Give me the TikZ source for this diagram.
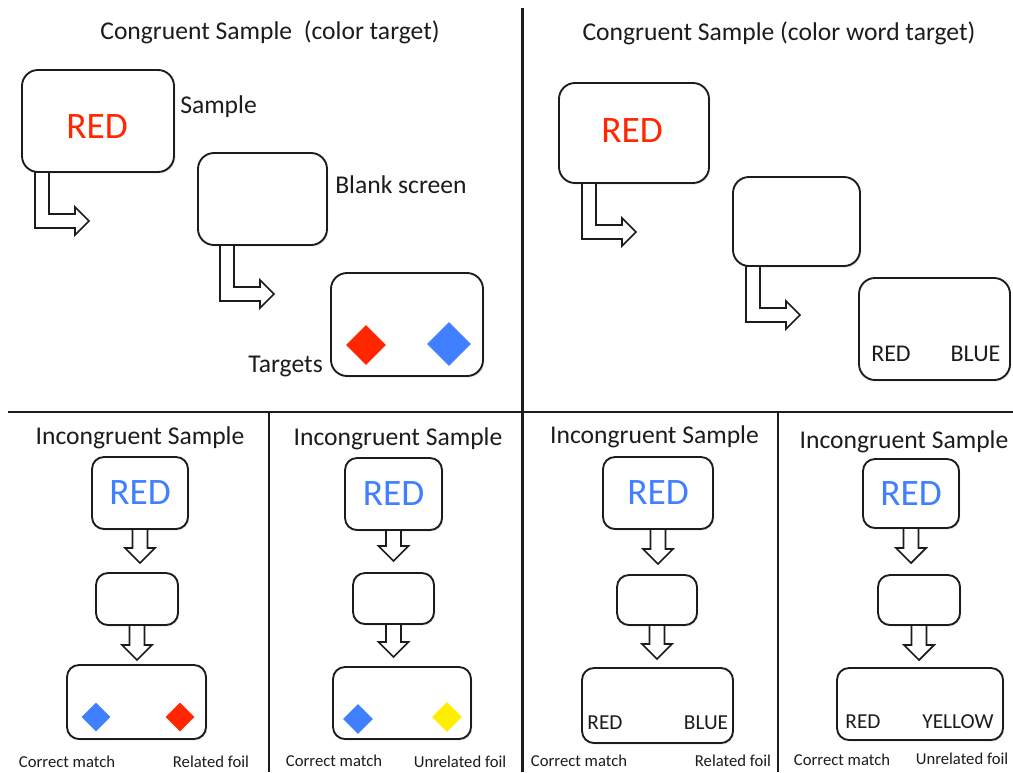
\documentclass[tikz,border=0pt]{standalone}
\usepackage{fontspec}
\setmainfont{Carlito}
\usetikzlibrary{shapes.geometric,calc,shadows}
\definecolor{wordred}{RGB}{255,38,0}
\definecolor{wordblue}{RGB}{64,128,255}
\definecolor{chipyellow}{RGB}{255,238,0}
\definecolor{ink}{RGB}{28,28,28}
\tikzset{
  screen/.style 2 args={draw=ink, line width=1.4pt, fill=white, rounded corners=12pt,
    inner sep=0pt, outer sep=0pt, minimum width=#1*0.75pt, minimum height=#2*0.75pt,
    drop shadow={shadow xshift=1pt, shadow yshift=-1.2pt, opacity=0.18}},
  smallscreen/.style 2 args={screen={#1}{#2}, rounded corners=9pt},
  blockarrow/.style={draw=ink, fill=white, line width=1.3pt, line join=miter},
  chip/.style 2 args={diamond, aspect=1, inner sep=0pt, fill=#1, draw=none,
    minimum width=#2*0.75pt, minimum height=#2*0.75pt},
  heading/.style={font=\fontsize{19.2}{22}\selectfont, text=ink, inner sep=0pt},
  bigword/.style={font=\fontsize{28}{32}\selectfont, inner sep=0pt},
  word/.style={font=\fontsize{18}{21}\selectfont, text=ink, inner sep=0pt},
  smallword/.style={font=\fontsize{16}{19}\selectfont, text=ink, inner sep=0pt},
  caption/.style={font=\fontsize{12.5}{15}\selectfont, text=ink, inner sep=0pt},
  divider/.style={draw=ink, line width=1.9pt},
  pics/bentarrow/.style={code={
    \draw[blockarrow] (0,0) -- (0,56) -- (40,56) -- (40,63) -- (54,49)
      -- (40,35) -- (40,42) -- (14,42) -- (14,0) -- cycle;}},
  pics/dnarrow/.style={code={
    \draw[blockarrow] (-7.5,0) -- (-7.5,#1) -- (-15,#1) -- (0,#1+15)
      -- (15,#1) -- (7.5,#1) -- (7.5,0) -- cycle;}},
}
\begin{document}
\begin{tikzpicture}[x=0.75pt,y=-0.75pt]
\useasboundingbox (0,0) rectangle (1013,772);
\fill[white] (0,0) rectangle (1013,772);

% panel dividers
\coordinate (vtop) at (522.5,8);
\coordinate (hleft) at (8,412);
\coordinate (hright) at (1013,412);
\draw[divider] (vtop) -- (522.5,772);
\draw[divider] (hleft) -- (hright);
\draw[divider] (269,412) -- (269,772);
\draw[divider] (778,412) -- (778,772);

% ---------- congruent sample, colour target ----------
\node[heading] (ta) at (270,32) {Congruent Sample~ (color target)};
\node[screen={152}{102}] (as) at (98,121) {};
\node[bigword, text=wordred] (asw) at (97,127) {RED};
\node[heading, anchor=west] (asl) at (180,107) {Sample};
\node[screen={129}{92}] (ab) at (262.5,199) {};
\node[heading, anchor=west] (abl) at (335,185) {Blank screen};
\node[screen={152}{103}] (at) at (407,324.5) {};
\node[chip={wordred}{40}] (atr) at (366,345) {};
\node[chip={wordblue}{44}] (atb) at (449,344) {};
\node[heading, anchor=east] (atl) at (323,366) {Targets};
\pic at ($(as.south west)+(13,0)$) {bentarrow};
\pic at ($(ab.south west)+(22,0)$) {bentarrow};

% ---------- congruent sample, colour word target ----------
\node[heading] (tb) at (779,33) {Congruent Sample (color word target)};
\node[screen={150}{100}] (bs) at (634,133) {};
\node[bigword, text=wordred] (bsw) at (632,131) {RED};
\node[screen={127}{89}] (bb) at (796.5,221.5) {};
\node[screen={151}{102}] (bt) at (934.5,329) {};
\node[word] (btr) at (891,354) {RED};
\node[word] (btb) at (975.5,354) {BLUE};
\pic at ($(bs.south west)+(23,0)$) {bentarrow};
\pic at ($(bb.south west)+(13,0)$) {bentarrow};

% ---------- incongruent 1 ----------
\node[heading] (tc) at (140,438) {Incongruent Sample};
\node[smallscreen={96}{72}] (cs) at (140,493) {};
\node[bigword, text=wordblue] (csw) at (cs.center) {RED};
\node[smallscreen={82}{52}] (cb) at (137,599) {};
\node[smallscreen={139}{74}] (ct) at (136.5,702) {};
\node[chip={wordblue}{29}] (ctb) at (96,717) {};
\node[chip={wordred}{29}] (ctr) at (180,717) {};
\node[caption] (cl1) at (67,762) {Correct match};
\node[caption] (cl2) at (211,762) {Related foil};
\pic at (cs.south) {dnarrow=19};
\pic at (cb.south) {dnarrow=20};

% ---------- incongruent 2 ----------
\node[heading] (td) at (398,439) {Incongruent Sample};
\node[smallscreen={97}{72}] (ds) at (393.5,494) {};
\node[bigword, text=wordblue] (dsw) at (ds.center) {RED};
\node[smallscreen={81}{51}] (db) at (393.5,598.5) {};
\node[smallscreen={138}{72}] (dt) at (402,703) {};
\node[chip={wordblue}{30}] (dtb) at (358,719) {};
\node[chip={chipyellow}{30}] (dty) at (447,717) {};
\node[caption] (dl1) at (334,761) {Correct match};
\node[caption] (dl2) at (460,762) {Unrelated foil};
\pic at (ds.south) {dnarrow=16};
\pic at (db.south) {dnarrow=18};

% ---------- incongruent 3 ----------
\node[heading] (te) at (654.5,437) {Incongruent Sample};
\node[smallscreen={110}{72}] (es) at (658,493) {};
\node[bigword, text=wordblue] (esw) at (es.center) {RED};
\node[smallscreen={80}{50}] (eb) at (657,600) {};
\node[smallscreen={151}{75}] (et) at (657.5,705.5) {};
\node[smallword] (etr) at (605,723) {RED};
\node[smallword] (etb) at (706,723) {BLUE};
\node[caption] (el1) at (579,761) {Correct match};
\node[caption] (el2) at (733,761) {Related foil};
\pic at (es.south) {dnarrow=20};
\pic at (eb.south) {dnarrow=19};

% ---------- incongruent 4 ----------
\node[heading] (tf) at (904,442) {Incongruent Sample};
\node[smallscreen={96}{69}] (fs) at (911,493.5) {};
\node[bigword, text=wordblue] (fsw) at (fs.center) {RED};
\node[smallscreen={82}{50}] (fb) at (919,600) {};
\node[smallscreen={166}{72}] (ft) at (920,704) {};
\node[smallword] (ftr) at (863,722) {RED};
\node[smallword] (fty) at (958,722) {YELLOW};
\node[caption] (fl1) at (842,760) {Correct match};
\node[caption] (fl2) at (962,759) {Unrelated foil};
\pic at (fs.south) {dnarrow=20};
\pic at (fb.south) {dnarrow=20};
\end{tikzpicture}
\end{document}
